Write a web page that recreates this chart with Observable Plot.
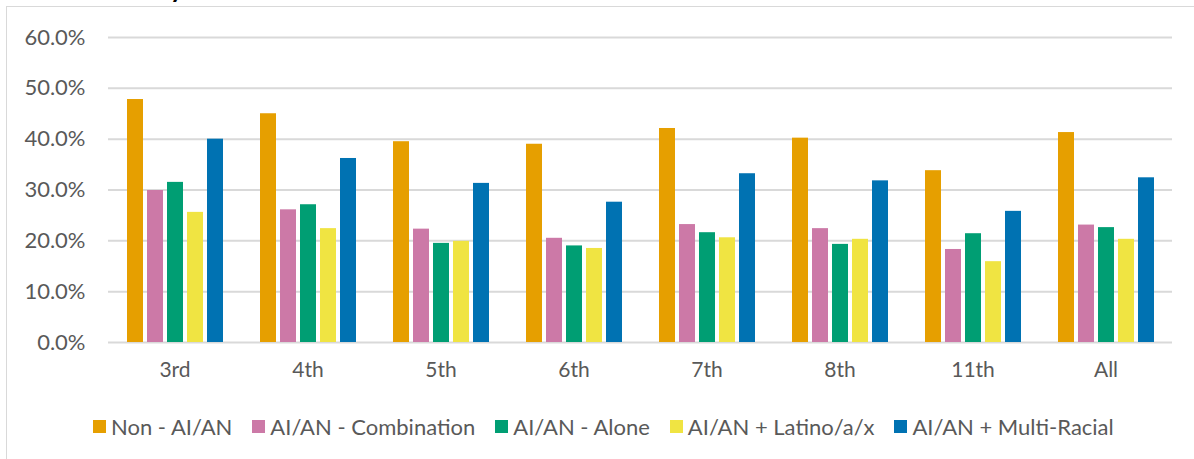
<!DOCTYPE html>
<html>
<head>
<meta charset="utf-8">
<script src="https://cdn.jsdelivr.net/npm/d3@7"></script>
<script src="https://cdn.jsdelivr.net/npm/@observablehq/plot@0.6"></script>
<style>
  html, body { margin: 0; padding: 0; background: #fff; width: 1194px; height: 459px; overflow: hidden; }
  #frame { position: absolute; left: 6px; top: 6px; width: 1400px; height: 700px; border: 1.5px solid #d9d9d9; box-sizing: border-box; }
  #title { position: absolute; left: 170px; top: -27px; font-family: Lato, sans-serif; font-weight: bold; font-size: 26px; line-height: 30px; color: #000; }
  #chart { position: absolute; left: 0; top: 0; }
  #legend { position: absolute; left: 93px; top: 411px; height: 30px; display: flex; align-items: center; font-family: Lato, sans-serif; font-size: 22px; color: #595959; white-space: nowrap; }
  .item { display: flex; align-items: center; margin-right: 20px; }
  .sw { width: 13px; height: 13px; margin-right: 5px; }
</style>
</head>
<body>
<div id="frame"></div>
<div id="title">y</div>
<div id="chart"></div>
<div id="legend"></div>
<script>
const grades = ["3rd", "4th", "5th", "6th", "7th", "8th", "11th", "All"];
const seriesNames = ["Non - AI/AN", "AI/AN - Combination", "AI/AN - Alone", "AI/AN + Latino/a/x", "AI/AN + Multi-Racial"];
const colors = ["#E69F00", "#CC79A7", "#009E73", "#F0E442", "#0072B2"];
const nonAIAN      = [0.478, 0.450, 0.395, 0.390, 0.421, 0.402, 0.338, 0.413];
const combination  = [0.299, 0.261, 0.223, 0.205, 0.232, 0.224, 0.183, 0.231];
const alone        = [0.315, 0.271, 0.195, 0.190, 0.216, 0.193, 0.214, 0.226];
const latino       = [0.256, 0.224, 0.199, 0.185, 0.206, 0.203, 0.159, 0.203];
const multiRacial  = [0.400, 0.362, 0.313, 0.276, 0.332, 0.318, 0.258, 0.324];
const yTicks = [0, 0.1, 0.2, 0.3, 0.4, 0.5, 0.6];

const seriesValues = [nonAIAN, combination, alone, latino, multiRacial];
const data = [];
grades.forEach((g, i) => {
  seriesNames.forEach((s, j) => data.push({grade: g, series: s, value: seriesValues[j][i]}));
});

const chart = Plot.plot({
  width: 1194,
  height: 400,
  marginLeft: 106,
  marginRight: 20,
  marginTop: 37,
  marginBottom: 58,
  style: {fontFamily: "Lato, sans-serif", fontSize: "21px", color: "#595959", background: "transparent"},
  fx: {domain: grades, padding: 0, label: null},
  x: {domain: seriesNames, axis: null, paddingInner: 0.22, paddingOuter: 0.865},
  y: {domain: [0, 0.6], label: null},
  color: {domain: seriesNames, range: colors},
  marks: [
    Plot.ruleY(yTicks, {stroke: "#d9d9d9", strokeWidth: 2}),
    Plot.axisY(yTicks, {tickSize: 0, tickPadding: 23, fontSize: 22, tickFormat: d => (d * 100).toFixed(1) + "%", label: null}),
    Plot.axisFx({anchor: "bottom", tickSize: 0, tickPadding: 20, label: null}),
    Plot.barY(data, {fx: "grade", x: "series", y: "value", fill: "series"})
  ]
});
document.getElementById("chart").appendChild(chart);

const legend = document.getElementById("legend");
seriesNames.forEach((s, i) => {
  const item = document.createElement("div");
  item.className = "item";
  const sw = document.createElement("div");
  sw.className = "sw";
  sw.style.background = colors[i];
  const t = document.createElement("span");
  t.textContent = s;
  item.appendChild(sw);
  item.appendChild(t);
  legend.appendChild(item);
});
</script>
</body>
</html>
